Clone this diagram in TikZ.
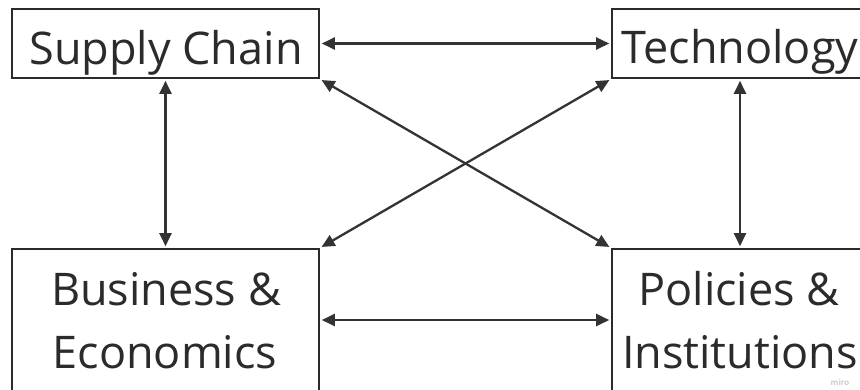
\documentclass[tikz,border=0pt]{standalone}
\usepackage{fontspec}
\setmainfont{Open Sans}
\usetikzlibrary{arrows.meta}
\definecolor{ink}{HTML}{2B2B2B}
\definecolor{linec}{HTML}{333333}
\begin{document}
\begin{tikzpicture}[x=1pt,y=-1pt,
  box/.style={draw=ink,line width=2.6pt,rectangle,inner sep=0pt},
  lbl/.style={anchor=base,text=ink,font=\fontsize{45}{60}\selectfont,inner sep=0pt},
  link/.style={draw=linec,line width=2.3pt,{Triangle[length=13pt,width=12pt]}-{Triangle[length=13pt,width=12pt]},shorten <=1.5pt,shorten >=1.5pt}]
\useasboundingbox (0,0) rectangle (860,389);
\fill[white] (0,0) rectangle (860,389);
\clip (0,0) rectangle (860,389);
% boxes
\node[box,minimum width=307pt,minimum height=69pt] (sc) at (165.5,43.5) {};
\node[box,minimum width=256pt,minimum height=69pt] (te) at (740,43.5) {};
\node[box,minimum width=307pt,minimum height=160pt] (be) at (165.5,329) {};
\node[box,minimum width=256pt,minimum height=160pt] (pi) at (740,329) {};
% labels
\node[lbl] (tsc) at (166,64) {Supply Chain};
\node[lbl] (tte) at (740,63) {Technology};
\node[lbl] (tbe1) at (166,305) {Business \&};
\node[lbl] (tbe2) at (165,368) {Economics};
\node[lbl] (tpi1) at (739,305) {Policies \&};
\node[lbl] (tpi2) at (740,368) {Institutions};
\node[anchor=base,text=gray!40,font=\fontsize{8}{9}\selectfont\bfseries,inner sep=0pt] (wm) at (840,385) {miro};
% connectors
\draw[link] (sc.east) -- (te.west);
\draw[link] (be.east |- 0,320) -- (pi.west |- 0,320);
\draw[link] (sc.south) -- (be.north);
\draw[link] (te.south) -- (pi.north);
\draw[link] (sc.south east) -- (pi.north west);
\draw[link] (te.south west) -- (be.north east);
\end{tikzpicture}
\end{document}
